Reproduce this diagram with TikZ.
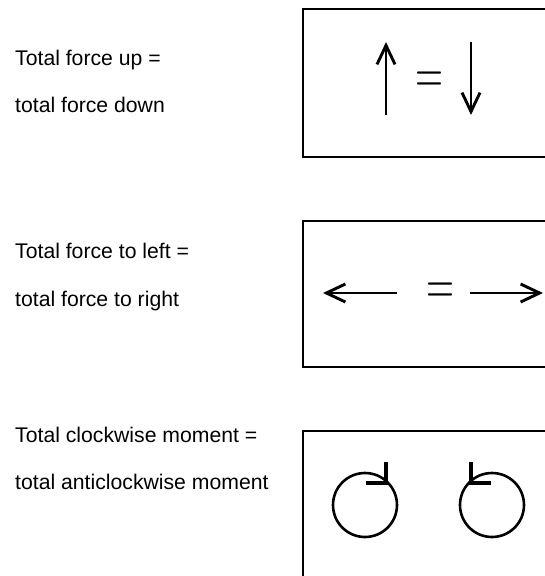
\documentclass[tikz,border=0pt]{standalone}
\usepackage{fontspec}
\setmainfont{Liberation Sans}
\usetikzlibrary{arrows.meta}
\tikzset{
  caption/.style={
    anchor = base west,
    inner sep = 0pt,
    font = \fontsize{21.2}{24}\selectfont
  },
  panel/.style={
    draw,
    line width = 1.4pt
  },
  force/.style={
    line width = 2.9pt,
    -{Straight Barb[length=19pt,width=18pt]}
  },
  equals/.style={
    inner sep = 0pt
  },
  wheel/.style={
    line width = 2.6pt
  },
  tick/.style={
    line width = 4pt
  }
}
\newcommand{\bigeq}{\scalebox{3.6}[5.6]{$=$}}
\begin{document}
\begin{tikzpicture}[x=1pt,y=-1pt]
    \useasboundingbox (0,0) rectangle (544,576);
    % left hand statements
    \node[caption] (upa) at (15,65) {Total force up =};
    \node[caption] (upb) at (15,112) {total force down};
    \node[caption] (lra) at (15,258) {Total force to left =};
    \node[caption] (lrb) at (15,306) {total force to right};
    \node[caption] (mma) at (15,442) {Total clockwise moment =};
    \node[caption] (mmb) at (15,489) {total anticlockwise moment};
    % the three panels
    \foreach \t/\b in {9/157,221/367,431/600}{
            \draw[panel] (303,\t) rectangle (570,\b);
        }
    % up = down
    \draw[force] (386,115) -- (386,42);
    \draw[force] (471,42) -- (471,115);
    \node[equals] (eqa) at (429,82) {\bigeq};
    % left = right
    \draw[force] (397,293) -- (323,293);
    \draw[force] (470,293) -- (543,293);
    \node[equals] (eqb) at (440,293.4) {\bigeq};
    % clockwise = anticlockwise
    \foreach \cx/\s in {365/1,492/-1}{
            \draw[wheel] (\cx,505) circle (32);
            \draw[tick] (\cx+21*\s,462) -- (\cx+21*\s,483) -- (\cx+\s,483);
        }
\end{tikzpicture}
\end{document}
